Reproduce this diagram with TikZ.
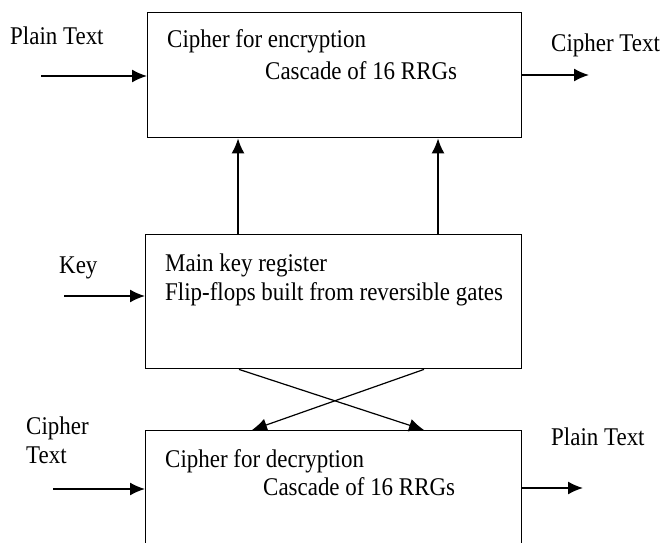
\documentclass[tikz,border=0pt]{standalone}
\usepackage{fontspec}
\setmainfont[FakeStretch=0.9]{Liberation Serif}
\usetikzlibrary{arrows.meta}
\begin{document}
\begin{tikzpicture}[x=1pt,y=-1pt,
  box/.style={draw, line width=1.4pt, inner sep=0pt, anchor=north west},
  lbl/.style={anchor=base west, inner sep=0pt, font=\fontsize{25.5}{29}\selectfont},
  arr/.style={line width=1.6pt, -{Latex[length=15pt,width=13pt]}},
  xarr/.style={line width=1.2pt, -{Latex[length=15pt,width=13pt]}}]
\useasboundingbox (0,0) rectangle (664,543);
\clip (0,0) rectangle (664,543);
% boxes
\node[box, minimum width=374pt, minimum height=125pt] (enc) at (147,12) {};
\node[box, minimum width=376pt, minimum height=134pt] (kr) at (145,234) {};
\node[box, minimum width=376pt, minimum height=140pt] (dec) at (145,430) {};
% texts in boxes
\node[lbl] (enc1) at (167,48) {Cipher for encryption};
\node[lbl] (enc2) at (265,80) {Cascade of 16 RRGs};
\node[lbl] (kr1) at (165,271) {Main key register};
\node[lbl] (kr2) at (165,300) {Flip-flops built from reversible gates};
\node[lbl] (dec1) at (165,467) {Cipher for decryption};
\node[lbl] (dec2) at (263,495) {Cascade of 16 RRGs};
% outside labels
\node[lbl] (ptin) at (10,45) {Plain Text};
\node[lbl] (ctout) at (551,52) {Cipher Text};
\node[lbl] (keyin) at (59,273) {Key};
\node[lbl] (ctin1) at (26,434) {Cipher};
\node[lbl] (ctin2) at (26,463) {Text};
\node[lbl] (ptout) at (551,445) {Plain Text};
% free ends
\coordinate (a1) at (41,76);
\coordinate (a2) at (589,75);
\coordinate (a3) at (64,296);
\coordinate (a4) at (53,489);
\coordinate (a5) at (583,488);
\coordinate (v1) at (238,0);
\coordinate (v2) at (438,0);
\coordinate (c1) at (239,0);
\coordinate (c2) at (424,0);
\coordinate (c3) at (252,0);
% connectors
\draw[arr] (a1) -- (a1 -| enc.west);
\draw[arr] (a2 -| enc.east) -- (a2);
\draw[arr] (a3) -- (a3 -| kr.west);
\draw[arr] (a4) -- (a4 -| dec.west);
\draw[arr] (a5 -| dec.east) -- (a5);
\draw[arr] (v1 |- kr.north) -- (v1 |- enc.south);
\draw[arr] (v2 |- kr.north) -- (v2 |- enc.south);
\draw[xarr] (c1 |- kr.south) -- (c2 |- dec.north);
\draw[xarr] (c2 |- kr.south) -- (c3 |- dec.north);
\end{tikzpicture}
\end{document}
